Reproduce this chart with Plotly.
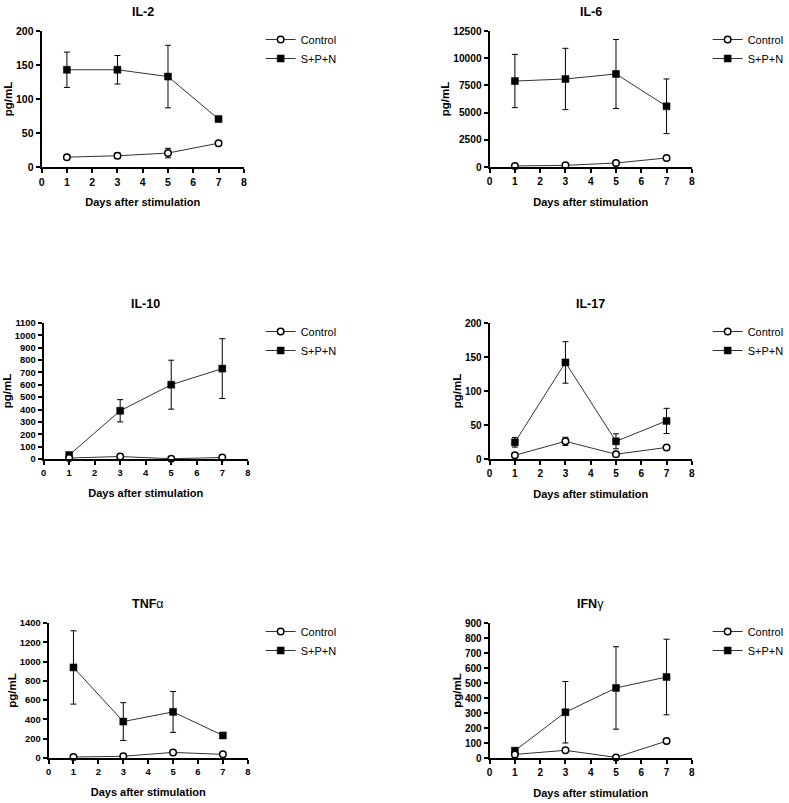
import plotly.graph_objects as go

W, H = 789, 803
FONT = "Arial, Liberation Sans, sans-serif"

days = [1, 3, 5, 7]
x_ticks = [0, 1, 2, 3, 4, 5, 6, 7, 8]

il2_control = [14.5, 16.5, 20.5, 35]
il2_control_err = [3, 4, 7, 2]
il2_spn = [143, 143, 133, 70.5]
il2_spn_err = [26, 21, 46, 2]

il6_control = [100, 150, 370, 830]
il6_control_err = [60, 80, 100, 120]
il6_spn = [7900, 8090, 8550, 5580]
il6_spn_err = [2450, 2820, 3170, 2510]

il10_control = [8, 20, 2, 12]
il10_control_err = [5, 8, 3, 6]
il10_spn = [32, 390, 601, 731]
il10_spn_err = [15, 90, 198, 242]

il17_control = [5.5, 26, 7, 17]
il17_control_err = [1.5, 6, 2, 2]
il17_spn = [24.5, 142, 26, 56]
il17_spn_err = [7, 30.5, 11, 18.5]

tnf_control = [10, 18, 58, 38]
tnf_control_err = [5, 8, 10, 8]
tnf_spn = [939, 378, 478, 234]
tnf_spn_err = [380, 196, 212, 25]

ifn_control = [24, 51, 4, 113]
ifn_control_err = [8, 8, 5, 12]
ifn_spn = [49, 305, 467, 540]
ifn_spn_err = [10, 205, 275, 252]

panels = [
    dict(title="<b>IL-2</b>", ctrl=il2_control, ctrl_err=il2_control_err,
         spn=il2_spn, spn_err=il2_spn_err, ymax=200, dtick=50, tfs=10.5,
         xpx=(42, 246), ypx=(31, 167)),
    dict(title="<b>IL-6</b>", ctrl=il6_control, ctrl_err=il6_control_err,
         spn=il6_spn, spn_err=il6_spn_err, ymax=12500, dtick=2500, tfs=10.2,
         xpx=(494, 698), ypx=(31, 167)),
    dict(title="<b>IL-10</b>", ctrl=il10_control, ctrl_err=il10_control_err,
         spn=il10_spn, spn_err=il10_spn_err, ymax=1100, dtick=100, tfs=9.4,
         xpx=(44, 250), ypx=(323, 459)),
    dict(title="<b>IL-17</b>", ctrl=il17_control, ctrl_err=il17_control_err,
         spn=il17_spn, spn_err=il17_spn_err, ymax=200, dtick=50, tfs=10,
         xpx=(494, 698), ypx=(323, 459)),
    dict(title="<b>TNF</b>α", ctrl=tnf_control, ctrl_err=tnf_control_err,
         spn=tnf_spn, spn_err=tnf_spn_err, ymax=1400, dtick=200, tfs=9.4,
         xpx=(49, 250), ypx=(623, 758)),
    dict(title="<b>IFN</b>γ", ctrl=ifn_control, ctrl_err=ifn_control_err,
         spn=ifn_spn, spn_err=ifn_spn_err, ymax=900, dtick=100, tfs=10,
         xpx=(494, 698), ypx=(623, 758)),
]

fig = go.Figure()
annotations = []
layout = {}

for i, p in enumerate(panels):
    n = i + 1
    sfx = "" if n == 1 else str(n)
    xa, ya, leg = "x" + sfx, "y" + sfx, "legend" + sfx
    err_style = dict(type="data", color="black", thickness=1, width=3)

    fig.add_trace(go.Scatter(
        x=days, y=p["spn"], name="S+P+N", mode="lines+markers",
        error_y=dict(array=p["spn_err"], **err_style),
        line=dict(color="#333333", width=1),
        marker=dict(symbol="square", size=7, color="black",
                    line=dict(color="black", width=0.5)),
        xaxis=xa, yaxis=ya, legend=leg, cliponaxis=False))
    fig.add_trace(go.Scatter(
        x=days, y=p["ctrl"], name="Control", mode="lines+markers",
        error_y=dict(array=p["ctrl_err"], **err_style),
        line=dict(color="#333333", width=1),
        marker=dict(symbol="circle", size=6.5, color="white",
                    line=dict(color="black", width=1.5)),
        xaxis=xa, yaxis=ya, legend=leg, cliponaxis=False))

    x0, x1 = p["xpx"]
    yt, yb = p["ypx"]
    tickfont = dict(family=FONT, size=p["tfs"], color="black", weight="bold")
    axis_common = dict(showline=True, linecolor="black", linewidth=2,
                       ticks="outside", ticklen=4, tickwidth=1.5,
                       tickcolor="black", showgrid=False, zeroline=False,
                       tickfont=tickfont, automargin=False)
    layout["xaxis" + sfx] = dict(
        domain=[x0 / W, x1 / W], anchor=ya, range=[0, 8],
        tickvals=x_ticks,
        title=dict(text="<b>Days after stimulation</b>",
                   font=dict(family=FONT, size=11, color="black"), standoff=12),
        **axis_common)
    layout["yaxis" + sfx] = dict(
        domain=[1 - yb / H, 1 - yt / H], anchor=xa, range=[0, p["ymax"]],
        tick0=0, dtick=p["dtick"], tickformat="d",
        title=dict(text="<b>pg/mL</b>",
                   font=dict(family=FONT, size=11.5, color="black"), standoff=1),
        **axis_common)
    annotations.append(dict(
        text=p["title"], xref="paper", yref="paper",
        x=(x0 + x1) / 2 / W, y=1 - (yt - 19) / H,
        xanchor="center", yanchor="middle", showarrow=False,
        font=dict(family=FONT, size=12.5, color="black")))
    lx = 263 if n % 2 == 1 else 714
    layout[leg] = dict(
        x=lx / W, y=1 - (yt - 6) / H, xanchor="left", yanchor="top",
        font=dict(family=FONT, size=11, color="black"),
        bgcolor="rgba(0,0,0,0)", itemwidth=30, tracegroupgap=0,
        traceorder="reversed")

fig.update_layout(
    width=W, height=H, margin=dict(l=0, r=0, t=0, b=0),
    paper_bgcolor="white", plot_bgcolor="white",
    annotations=annotations, showlegend=True, **layout)

fig.write_html("out.html", config={"displayModeBar": False},
               post_script="document.body.style.margin='0px';"
                           "document.body.style.overflow='hidden';")
